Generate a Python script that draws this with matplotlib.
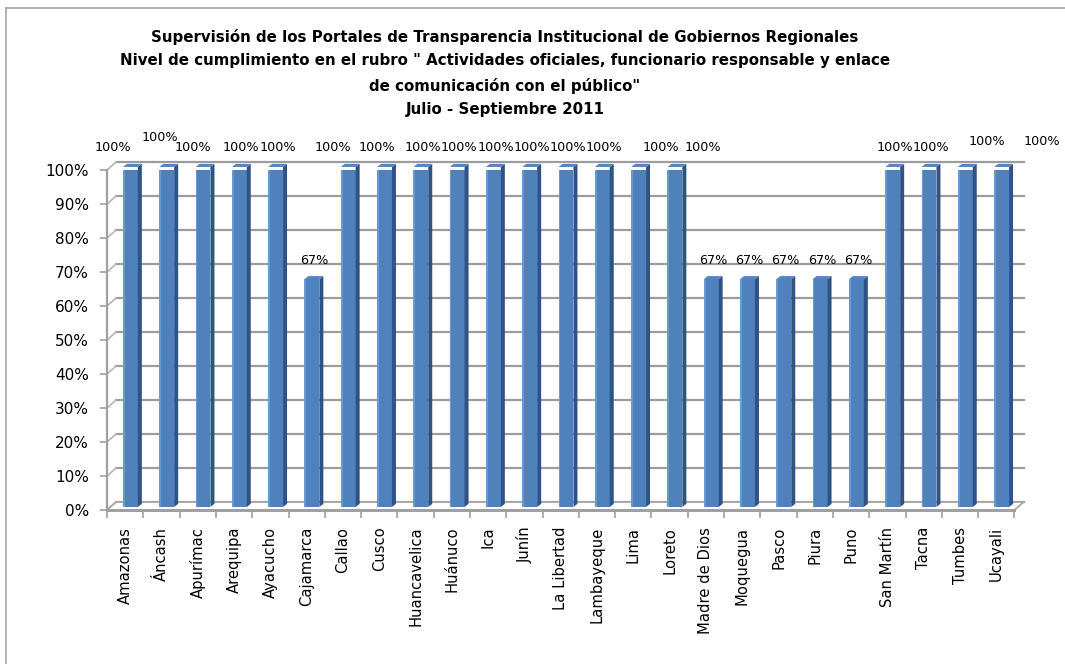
import numpy as np
import matplotlib.pyplot as plt
from matplotlib.patches import Polygon
from matplotlib.lines import Line2D

regiones = ["Amazonas", "Áncash", "Apurímac", "Arequipa", "Ayacucho",
            "Cajamarca", "Callao", "Cusco", "Huancavelica", "Huánuco",
            "Ica", "Junín", "La Libertad", "Lambayeque", "Lima", "Loreto",
            "Madre de Dios", "Moquegua", "Pasco", "Piura", "Puno",
            "San Martín", "Tacna", "Tumbes", "Ucayali"]
cumplimiento = [1.00, 1.00, 1.00, 1.00, 1.00, 0.67, 1.00, 1.00, 1.00, 1.00,
                1.00, 1.00, 1.00, 1.00, 1.00, 1.00, 0.67, 0.67, 0.67, 0.67,
                0.67, 1.00, 1.00, 1.00, 1.00]
y_ticks = np.arange(0, 1.01, 0.1)

titulo = ("Supervisión de los Portales de Transparencia Institucional de Gobiernos Regionales\n"
          "Nivel de cumplimiento en el rubro \" Actividades oficiales, funcionario responsable y enlace\n"
          "de comunicación con el público\"\n"
          "Julio - Septiembre 2011")

# label nudges in pixels (Excel places some labels irregularly)
nudge = {"Amazonas": (-20, 0), "Áncash": (-9, 10), "Apurímac": (-12, 0),
         "Callao": (-17, 0), "Cusco": (-10, 0), "Lima": (20, 0),
         "Loreto": (26, 0), "Tumbes": (20, 6), "Ucayali": (38, 6)}

FRONT = "#4F81BD"
SIDE = "#2F5384"
TOP = "#5585C0"
GRID = "#9C9C9C"

fig = plt.figure(figsize=(10.65, 6.64), dpi=100)
ax = fig.add_axes([107 / 1065, 1 - 510 / 664, 907.5 / 1065, 340 / 664])

n = len(regiones)
x = np.arange(n)
ax.set_xlim(-0.5, n - 0.5)
ax.set_ylim(0, 1)

# 3D offsets (data units)
dxb, dyb = 0.25, 0.0235     # back wall
base = 0.009
w = 0.41
sx, sy = 0.11, 0.009        # bar depth

# back wall gridlines + side wall diagonals
for t in y_ticks:
    ax.add_line(Line2D([-0.5 + dxb, n - 0.5 + dxb], [t + dyb, t + dyb],
                       color=GRID, lw=1.6, zorder=1, clip_on=False))
    ax.add_line(Line2D([-0.5, -0.5 + dxb], [t, t + dyb],
                       color="#B4B4B4", lw=1.2, zorder=1, clip_on=False))

# floor
ax.add_patch(Polygon([(-0.5, 0), (n - 0.5, 0), (n - 0.5 + dxb, dyb),
                      (-0.5 + dxb, dyb)], closed=True, facecolor="white",
                     edgecolor="#A6A6A6", lw=1.3, zorder=1.5, clip_on=False))
ax.add_line(Line2D([-0.5, n - 0.5], [0, 0], color="#A0A0A0", lw=2.2,
                   zorder=1.6, clip_on=False))

bars = ax.bar(x - 0.06, cumplimiento, width=w, bottom=base, align="edge",
              color=FRONT, edgecolor="none", zorder=3)
for b, v, reg in zip(bars, cumplimiento, regiones):
    x0 = b.get_x()
    x1 = x0 + b.get_width()
    y0 = b.get_y()
    y1 = y0 + b.get_height()
    ax.add_patch(Polygon([(x1, y0), (x1 + sx, y0 + sy), (x1 + sx, y1 + sy),
                          (x1, y1)], closed=True, facecolor=SIDE,
                         edgecolor="none", zorder=3, clip_on=False))
    ax.add_patch(Polygon([(x0, y1), (x0 + sx, y1 + sy), (x1 + sx, y1 + sy),
                          (x1, y1)], closed=True, facecolor=TOP,
                         edgecolor="none", zorder=3, clip_on=False))
    # light strip on the left of the front face
    ax.add_patch(Polygon([(x0, y0), (x0 + 0.05, y0), (x0 + 0.05, y1),
                          (x0, y1)], closed=True, facecolor="#6A98D0",
                         edgecolor="none", zorder=3.1))
    ddx, ddy = nudge.get(reg, (0, 0))
    ax.annotate(f"{v:.0%}", ((x0 + x1 + sx) / 2, y1),
                xytext=(ddx, 19 + ddy), textcoords="offset pixels",
                ha="center", va="center", fontsize=9.2, color="black",
                zorder=5, annotation_clip=False)

for s in ["top", "right", "bottom"]:
    ax.spines[s].set_visible(False)
ax.spines["left"].set_color("#A0A0A0")
ax.spines["left"].set_linewidth(1.6)

ax.set_yticks(y_ticks)
ax.set_yticklabels([f"{t:.0%}" for t in y_ticks], fontsize=11)
ax.tick_params(axis="y", length=5, width=1.2, color="#A0A0A0", pad=8)

ax.set_xticks(np.arange(n + 1) - 0.5)
ax.set_xticklabels([])
ax.tick_params(axis="x", which="major", length=6, width=1.2,
               color="#A0A0A0")
ax.set_xticks(x, minor=True)
ax.set_xticklabels(regiones, minor=True, rotation=90, fontsize=10.6,
                   va="top", ha="center")
ax.tick_params(axis="x", which="minor", length=0, pad=12)

fig.text(505 / 1065, 1 - 29 / 664, titulo, ha="center", va="top",
         fontsize=10.8, fontweight="bold", linespacing=1.7)

# outer chart border (left and top only are visible)
fig.add_artist(Line2D([6 / 1065, 6 / 1065], [0, 1 - 8 / 664],
                      transform=fig.transFigure, color="#A6A6A6", lw=1.2))
fig.add_artist(Line2D([6 / 1065, 1], [1 - 8 / 664, 1 - 8 / 664],
                      transform=fig.transFigure, color="#A6A6A6", lw=1.2))

fig.savefig("out.png", dpi=100)
